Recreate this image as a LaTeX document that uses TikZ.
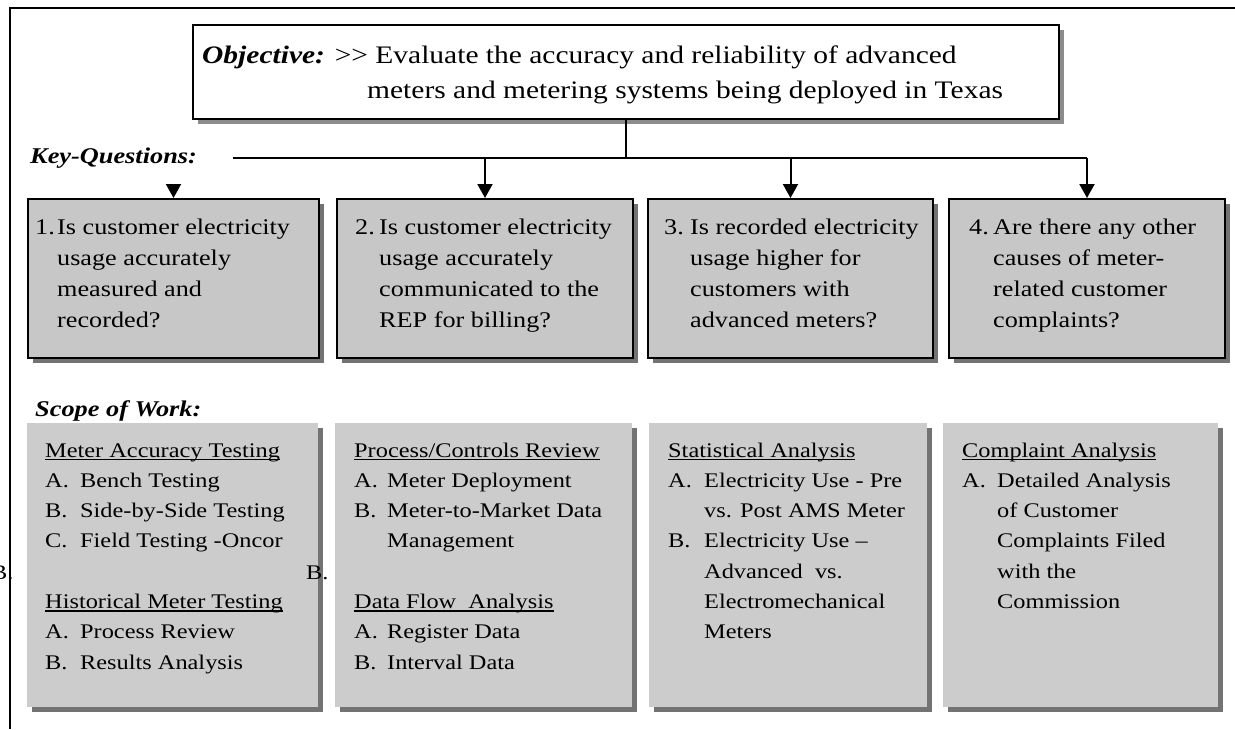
\documentclass[tikz,border=0pt]{standalone}
\usepackage{fontspec}
\setmainfont{Liberation Serif}[FakeStretch=1.17]
\usetikzlibrary{arrows.meta,shadows}

\newlength{\ulw}
\newcommand{\ulhead}[1]{\settowidth{\ulw}{#1}\rlap{\rule[-3pt]{\ulw}{1.5pt}}#1}
\newcommand{\shead}[1]{\multicolumn{2}{@{}l@{}}{\ulhead{#1}}}
\newcommand{\hlist}[2]{\begin{tabular}[t]{@{}p{#1}@{}l@{}}#2\end{tabular}}

\tikzset{
  objbox/.style={draw, line width=2pt, fill=white, inner sep=0pt, anchor=north west,
    drop shadow={shadow xshift=5pt, shadow yshift=-5pt, opacity=1, fill=black!45}},
  qbox/.style={draw, line width=2pt, fill=black!22, inner sep=0pt, anchor=north west,
    drop shadow={shadow xshift=5pt, shadow yshift=-5pt, opacity=1, fill=black!55}},
  sbox/.style={fill=black!20, inner sep=0pt, anchor=north west,
    drop shadow={shadow xshift=5pt, shadow yshift=-5pt, opacity=1, fill=black!55}},
  objtext/.style={anchor=base west, inner sep=0pt, font=\fontsize{25.2}{35}\selectfont},
  headlbl/.style={anchor=base west, inner sep=0pt, font=\fontsize{22.5}{26}\selectfont\bfseries\itshape},
  qtext/.style={anchor=base west, inner sep=0pt, font=\fontsize{22.4}{31}\selectfont},
  stext/.style={anchor=base west, inner sep=0pt, font=\fontsize{20.8}{30.3}\selectfont},
  conn/.style={draw, line width=2pt},
  arr/.style={draw, line width=2pt, -{Triangle[width=15pt, length=14pt]}}
}

\begin{document}
\begin{tikzpicture}[x=1pt, y=-1pt]
  \useasboundingbox (0,0) rectangle (1235,729);
  \path[draw, line width=2.5pt] (10,729) -- (10,8) -- (1235,8);

  \node[objbox, minimum width=866pt, minimum height=94pt] (obj) at (192,24) {};
  \node[objtext] (objtxt) at (202,63) {\begin{tabular}[t]{@{}l@{}}%
    {\bfseries\itshape Objective:} >{}> Evaluate the accuracy and reliability of advanced\\
    \hspace*{165pt}meters and metering systems being deployed in Texas\end{tabular}};

  \node[headlbl] (kq) at (30,163) {Key-Questions:};
  \node[headlbl] (sw) at (35,416) {Scope of Work:};

  \node[qbox, minimum width=291pt, minimum height=159pt] (q1) at (27,198) {};
  \node[qbox, minimum width=296pt, minimum height=159pt] (q2) at (336,198) {};
  \node[qbox, minimum width=285pt, minimum height=159pt] (q3) at (647,198) {};
  \node[qbox, minimum width=276pt, minimum height=159pt] (q4) at (948,198) {};

  \node[qtext] (q1txt) at (35,234) {\hlist{22pt}{1. & Is customer electricity\\ & usage accurately\\ & measured and\\ & recorded?}};
  \node[qtext] (q2txt) at (355,234) {\hlist{24pt}{2. & Is customer electricity\\ & usage accurately\\ & communicated to the\\ & REP for billing?}};
  \node[qtext] (q3txt) at (664,234) {\hlist{26pt}{3. & Is recorded electricity\\ & usage higher for\\ & customers with\\ & advanced meters?}};
  \node[qtext] (q4txt) at (969,234) {\hlist{24pt}{4. & Are there any other\\ & causes of meter-\\ & related customer\\ & complaints?}};

  \coordinate (barL) at (233,158);
  \coordinate (barR) at (q4.north |- barL);
  \coordinate (kq1) at (q1.north |- 0,185);
  \path[conn] (obj.south) to (obj.south |- barL);
  \path[conn] (barL) to (barR);
  \path[arr] (barR) to (q4.north);
  \path[arr] (q2.north |- barL) to (q2.north);
  \path[arr] (q3.north |- barL) to (q3.north);
  \path[arr] (kq1) to (q1.north);

  \node[sbox, minimum width=291pt, minimum height=284pt] (s1) at (27,423) {};
  \node[sbox, minimum width=297pt, minimum height=284pt] (s2) at (335,423) {};
  \node[sbox, minimum width=278pt, minimum height=284pt] (s3) at (649,423) {};
  \node[sbox, minimum width=275pt, minimum height=284pt] (s4) at (943,423) {};

  \node[stext] (s1txt) at (45,457) {\hlist{35pt}{\shead{Meter Accuracy Testing}\\
    A. & Bench Testing\\ B. & Side-by-Side Testing\\ C. & Field Testing -Oncor\\ & \\
    \shead{Historical Meter Testing}\\ A. & Process Review\\ B. & Results Analysis}};
  \node[stext] (s2txt) at (354,457) {\hlist{33pt}{\shead{Process/Controls Review}\\
    A. & Meter Deployment\\ B. & Meter-to-Market Data\\ & Management\\ & \\
    \shead{Data Flow\ \ Analysis}\\ A. & Register Data\\ B. & Interval Data}};
  \node[stext] (s3txt) at (668,457) {\hlist{36pt}{\shead{Statistical Analysis}\\
    A. & Electricity Use - Pre\\ & vs. Post AMS Meter\\ B. & Electricity Use --\\
    & Advanced\ \ vs.\\ & Electromechanical\\ & Meters}};
  \node[stext] (s4txt) at (962,457) {\hlist{35pt}{\shead{Complaint Analysis}\\
    A. & Detailed Analysis\\ & of Customer\\ & Complaints Filed\\ & with the\\ & Commission}};

  \node[stext] (strayL) at (-9,579) {B.};
  \node[stext] (strayR) at (306,579) {B.};

\end{tikzpicture}
\end{document}
